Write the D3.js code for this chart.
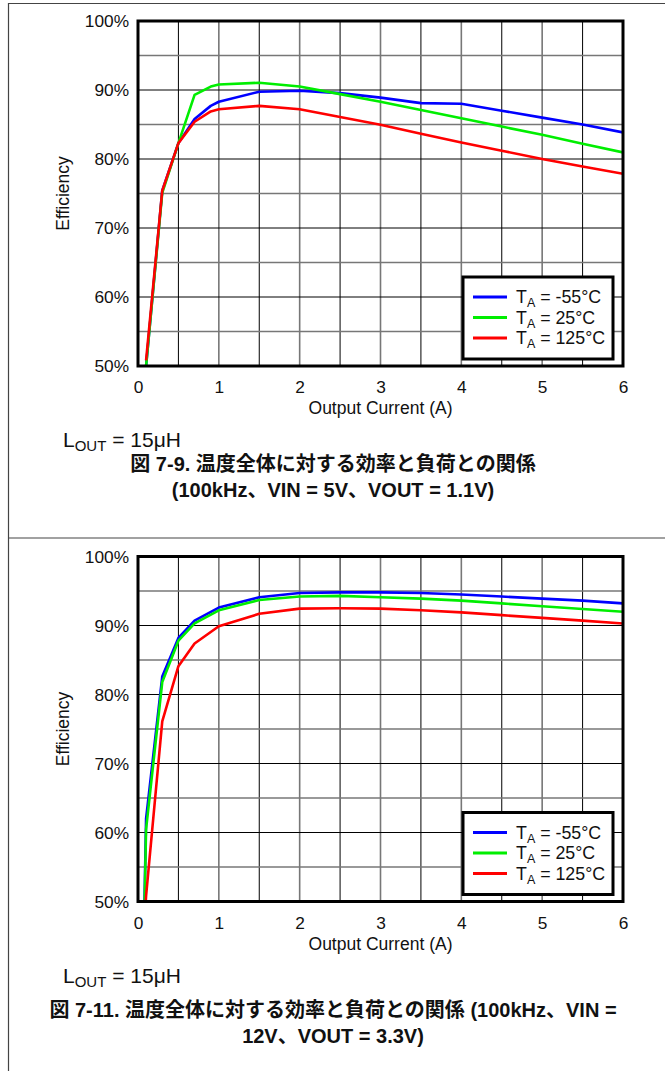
<!DOCTYPE html>
<html>
<head>
<meta charset="utf-8">
<script src="https://cdn.jsdelivr.net/npm/d3@7"></script>
<style>
  body { margin: 0; background: #fff; }
  text { font-family: "Liberation Sans", Arial, "Noto Sans CJK JP", sans-serif; fill: #111; }
</style>
</head>
<body>
<div id="container"></div>
<script>
/* DATA */
// top figure (VIN = 5V, VOUT = 1.1V)
const current1 = [0.1, 0.3, 0.5, 0.7, 0.9, 1.0, 1.5, 2.0, 2.5, 3.0, 3.5, 4.0, 4.5, 5.0, 5.5, 6.0];
const blue1  = [50, 75.4, 82.3, 85.8, 87.7, 88.3, 89.75, 89.9, 89.55, 88.9, 88.1, 88.0, 87.0, 86.0, 85.0, 83.85];
const green1 = [50, 75.1, 82.3, 89.3, 90.5, 90.8, 91.05, 90.5, 89.4, 88.3, 87.1, 85.9, 84.7, 83.5, 82.2, 80.95];
const red1   = [50.8, 75.4, 82.3, 85.4, 86.9, 87.2, 87.7, 87.2, 86.1, 84.95, 83.65, 82.4, 81.2, 80.0, 78.9, 77.85];

// bottom figure (VIN = 12V, VOUT = 3.3V)
const current2 = [0.08, 0.1, 0.3, 0.5, 0.7, 1.0, 1.5, 2.0, 2.5, 3.0, 3.5, 4.0, 4.5, 5.0, 5.5, 6.0];
const blue2  = [50, 62, 82.6, 88.2, 90.7, 92.6, 94.1, 94.7, 94.8, 94.8, 94.7, 94.5, 94.2, 93.9, 93.6, 93.2];
const green2 = [49, 60.5, 81.8, 87.8, 90.3, 92.2, 93.7, 94.2, 94.3, 94.1, 93.9, 93.6, 93.2, 92.8, 92.4, 92.0];
const red2   = [47, 50.8, 76.1, 84.1, 87.4, 89.9, 91.7, 92.45, 92.5, 92.45, 92.2, 91.9, 91.5, 91.1, 90.7, 90.3];

const temps = ["-55°C", "25°C", "125°C"];
const colors = ["#0000ff", "#00ee00", "#ff0000"];
const xTicks = [0, 1, 2, 3, 4, 5, 6];
const yTicks = [50, 60, 70, 80, 90, 100];

const captions1 = ["図 7-9. 温度全体に対する効率と負荷との関係", "(100kHz、VIN = 5V、VOUT = 1.1V)"];
const captions2 = ["図 7-11. 温度全体に対する効率と負荷との関係 (100kHz、VIN =", "12V、VOUT = 3.3V)"];

/* CONSTANTS */
const width = 665, height = 1071;
const plotLeft = 138, plotRight = 623, plotH = 345;

const svg = d3.select("#container").append("svg")
  .attr("width", width)
  .attr("height", height)
  .style("background-color", "white");

// outer boxes
svg.append("line").attr("x1", 8).attr("x2", width).attr("y1", 3.5).attr("y2", 3.5)
  .attr("stroke", "#444").attr("stroke-width", 1.2);
svg.append("line").attr("x1", 8).attr("x2", width).attr("y1", 538).attr("y2", 538)
  .attr("stroke", "#444").attr("stroke-width", 1.2);
svg.append("line").attr("x1", 8.5).attr("x2", 8.5).attr("y1", 3).attr("y2", height)
  .attr("stroke", "#444").attr("stroke-width", 1.2);

function drawPanel(top, current, series, captions, capY, id) {
  const g = svg.append("g");

  const xScale = d3.scaleLinear().domain([0, 6]).range([plotLeft, plotRight]);
  const yScale = d3.scaleLinear().domain([50, 100]).range([top + plotH, top]);

  // grid: every 0.5 A and every 5 %
  const xs = d3.range(0.5, 6, 0.5);
  const ys = d3.range(55, 100, 5);
  g.selectAll(".vgrid").data(xs).join("line")
    .attr("x1", d => xScale(d)).attr("x2", d => xScale(d))
    .attr("y1", top).attr("y2", top + plotH)
    .attr("stroke", d => d % 1 === 0 ? "#777" : "#000")
    .attr("stroke-width", d => d % 1 === 0 ? 1.6 : 1);
  g.selectAll(".hgrid").data(ys).join("line")
    .attr("x1", plotLeft).attr("x2", plotRight)
    .attr("y1", d => yScale(d)).attr("y2", d => yScale(d))
    .attr("stroke", d => d % 10 === 0 ? "#000" : "#777")
    .attr("stroke-width", d => d % 10 === 0 ? 1 : 1.6);

  // clip for the curves
  svg.append("clipPath").attr("id", "clip" + id)
    .append("rect").attr("x", plotLeft).attr("y", top)
    .attr("width", plotRight - plotLeft).attr("height", plotH);

  const line = d3.line().x(d => xScale(d[0])).y(d => yScale(d[1]));
  series.forEach((vals, i) => {
    g.append("path")
      .datum(current.map((c, j) => [c, vals[j]]))
      .attr("clip-path", `url(#clip${id})`)
      .attr("fill", "none")
      .attr("stroke", colors[i])
      .attr("stroke-width", 2.6)
      .attr("stroke-linejoin", "round")
      .attr("d", line);
  });

  // frame
  g.append("rect").attr("x", plotLeft).attr("y", top)
    .attr("width", plotRight - plotLeft).attr("height", plotH)
    .attr("fill", "none").attr("stroke", "#000").attr("stroke-width", 3);

  // axes (labels only)
  const xAxis = d3.axisBottom(xScale).tickValues(xTicks).tickSize(0).tickPadding(15)
    .tickFormat(d3.format("d"));
  const yAxis = d3.axisLeft(yScale).tickValues(yTicks).tickSize(0).tickPadding(9)
    .tickFormat(d => d + "%");
  const gx = g.append("g").attr("transform", `translate(0,${top + plotH})`).call(xAxis);
  const gy = g.append("g").attr("transform", `translate(${plotLeft},0)`).call(yAxis);
  [gx, gy].forEach(a => {
    a.select(".domain").remove();
    a.selectAll("text").attr("font-size", 17.3)
      .attr("font-family", '"Liberation Sans", Arial, sans-serif').attr("fill", "#111");
  });

  g.append("text")
    .attr("x", (plotLeft + plotRight) / 2).attr("y", top + plotH + 48)
    .attr("text-anchor", "middle").attr("font-size", 17.5)
    .text("Output Current (A)");
  g.append("text")
    .attr("transform", `translate(69,${top + plotH / 2}) rotate(-90)`)
    .attr("text-anchor", "middle").attr("font-size", 17.5)
    .text("Efficiency");

  // legend
  const lx = 463, ly = top + 256, lw = 150, lh = 82;
  g.append("rect").attr("x", lx).attr("y", ly).attr("width", lw).attr("height", lh)
    .attr("fill", "white").attr("stroke", "#000").attr("stroke-width", 3);
  temps.forEach((t, i) => {
    const yy = ly + 20 + i * 20.5;
    g.append("line").attr("x1", lx + 10).attr("x2", lx + 44)
      .attr("y1", yy).attr("y2", yy)
      .attr("stroke", colors[i]).attr("stroke-width", 3);
    const tx = g.append("text").attr("x", lx + 53).attr("y", yy + 6).attr("font-size", 17.8);
    tx.append("tspan").text("T");
    tx.append("tspan").attr("font-size", 12.5).attr("dy", 4).text("A");
    tx.append("tspan").attr("dy", -4).text(" = " + t);
  });

  // inductor note
  const note = g.append("text").attr("x", 63).attr("y", top + plotH + 81).attr("font-size", 21);
  note.append("tspan").text("L");
  note.append("tspan").attr("font-size", 15).attr("dy", 4).text("OUT");
  note.append("tspan").attr("dy", -4).text(" = 15μH");

  // caption
  captions.forEach((c, i) => {
    g.append("text")
      .attr("x", 333).attr("y", capY + i * 25.5)
      .attr("text-anchor", "middle")
      .attr("font-size", 20).attr("font-weight", "bold")
      .text(c);
  });
}

drawPanel(21, current1, [blue1, green1, red1], captions1, 471, 1);
drawPanel(556.5, current2, [blue2, green2, red2], captions2, 1017, 2);
</script>
</body>
</html>
